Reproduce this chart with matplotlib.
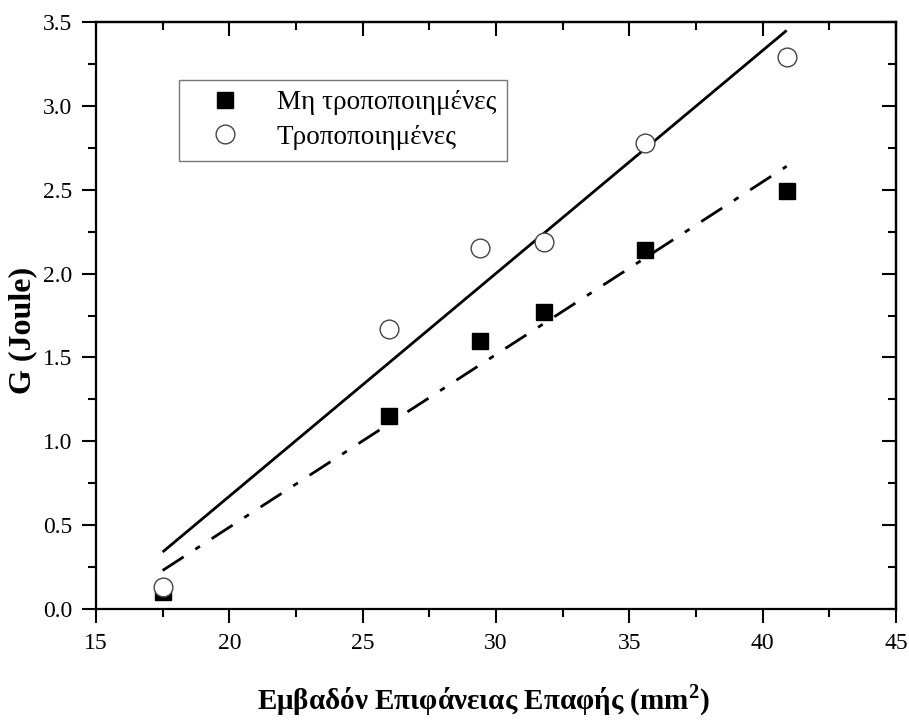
import matplotlib
matplotlib.use("Agg")
import matplotlib.pyplot as plt
from matplotlib.ticker import MultipleLocator

plt.rcParams['font.family'] = ['Liberation Serif', 'DejaVu Serif']
plt.rcParams['mathtext.fontset'] = 'custom'
plt.rcParams['mathtext.rm'] = 'Liberation Serif'
plt.rcParams['mathtext.bf'] = 'Liberation Serif:bold'

# data
area = [17.5, 26.0, 29.4, 31.8, 35.6, 40.9]
g_unmodified = [0.10, 1.15, 1.60, 1.77, 2.14, 2.49]
g_modified = [0.13, 1.67, 2.15, 2.19, 2.78, 3.29]
fit_x = [17.5, 40.9]
fit_unmodified = [0.23, 2.64]
fit_modified = [0.34, 3.45]

label_unmod = "Μη τροποποιημένες"
label_mod = "Τροποποιημένες"
xlabel = r"Εμβαδόν Επιφάνειας Επαφής (mm$^{\mathbf{2}}$)"
ylabel = "G (Joule)"

fig = plt.figure(figsize=(9.09, 7.22), dpi=100)
ax = fig.add_axes([0.1056, 0.1565, 0.8801, 0.813])

ax.plot(fit_x, fit_modified, color='black', lw=2.0, solid_capstyle='butt')
ax.plot(fit_x, fit_unmodified, color='black', lw=2.0, dashes=(9, 5, 2, 5))
ax.plot(area, g_unmodified, 's', color='black', markersize=11.5, label=label_unmod, zorder=3)
ax.plot(area, g_modified, 'o', markerfacecolor='white', markeredgecolor='#444444',
        markeredgewidth=1.0, markersize=13.5, label=label_mod, zorder=4)

ax.set_xlim(15, 45)
ax.set_ylim(0, 3.5)
ax.xaxis.set_major_locator(MultipleLocator(5))
ax.xaxis.set_minor_locator(MultipleLocator(2.5))
ax.yaxis.set_major_locator(MultipleLocator(0.5))
ax.yaxis.set_minor_locator(MultipleLocator(0.25))
ax.set_yticklabels([f"{v:.1f}" for v in ax.get_yticks()])
ax.set_xticklabels([f"{int(v)}" for v in ax.get_xticks()])

for s in ax.spines.values():
    s.set_linewidth(1.6)
ax.tick_params(axis='both', which='major', direction='out', length=10, width=1.5,
               labelsize=17, pad=7)
ax.tick_params(axis='both', which='minor', direction='out', length=5.5, width=1.5)
axt = ax.secondary_xaxis('top')
axt.xaxis.set_major_locator(MultipleLocator(5))
axt.xaxis.set_minor_locator(MultipleLocator(2.5))
axt.tick_params(which='major', direction='in', length=10, width=1.5, labeltop=False)
axt.tick_params(which='minor', direction='in', length=5.5, width=1.5)
axt.set_xticklabels([])
axr = ax.secondary_yaxis('right')
axr.yaxis.set_major_locator(MultipleLocator(0.5))
axr.yaxis.set_minor_locator(MultipleLocator(0.25))
axr.tick_params(which='major', direction='in', length=10, width=1.5)
axr.tick_params(which='minor', direction='in', length=5.5, width=1.5)
axr.set_yticklabels([])
for sec in (axt, axr):
    for s in sec.spines.values():
        s.set_linewidth(1.6)

ax.set_xlabel(xlabel, fontsize=21, fontweight='bold')
ax.xaxis.set_label_coords(0.484, -0.125)
ax.set_ylabel(ylabel, fontsize=23, fontweight='bold')
ax.yaxis.set_label_coords(-0.074, 0.475)

leg = ax.legend(loc='upper left', bbox_to_anchor=(0.104, 0.902), fontsize=19.5,
                frameon=True, fancybox=False, edgecolor='#555555', borderpad=0.4,
                handletextpad=0.6, borderaxespad=0, labelspacing=0.35, handlelength=2.6)
leg.get_frame().set_linewidth(1.0)

fig.savefig("out.png", dpi=100)
